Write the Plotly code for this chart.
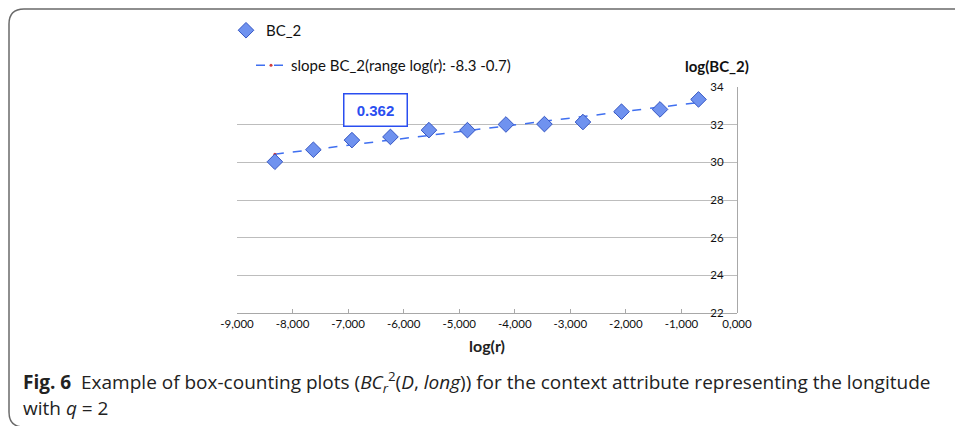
import numpy as np
import plotly.graph_objects as go

# ---- data ----
log_r = [-8.318, -7.625, -6.931, -6.238, -5.545, -4.852, -4.159, -3.466, -2.773, -2.079, -1.386, -0.693]
log_bc2 = [30.03, 30.67, 31.18, 31.35, 31.71, 31.71, 32.01, 32.03, 32.14, 32.69, 32.81, 33.34]
x_ticks = [-9, -8, -7, -6, -5, -4, -3, -2, -1, 0]
x_tick_labels = ["-9,000", "-8,000", "-7,000", "-6,000", "-5,000", "-4,000",
                 "-3,000", "-2,000", "-1,000", "0,000"]
y_ticks = [22, 24, 26, 28, 30, 32, 34]
slope_label = "0.362"

W, H = 955, 426

# linear fit for the slope line
coef = np.polyfit(log_r, log_bc2, 1)
fit_y = list(np.polyval(coef, log_r))

fig = go.Figure()

fig.add_trace(go.Scatter(
    x=log_r, y=fit_y, mode="lines+markers",
    name="slope BC_2(range log(r): -8.3 -0.7)",
    line=dict(color="#3f6ff0", width=1.5, dash="dash"),
    marker=dict(color="#d23c3c", size=3, symbol="circle"),
    legend="legend2",
))
fig.add_trace(go.Scatter(
    x=log_r, y=log_bc2, mode="markers", name="BC_2",
    marker=dict(symbol="diamond", size=12, color="#6f92ef",
                line=dict(color="#3556c4", width=1)),
    legend="legend",
))

def px_x(p):
    return p / W

def px_y(p):
    return 1 - p / H

fig.update_layout(
    width=W, height=H,
    margin=dict(l=0, r=0, t=0, b=0, autoexpand=False),
    paper_bgcolor="white", plot_bgcolor="white",
    font=dict(family="Lato, Open Sans, sans-serif", color="#222"),
    xaxis=dict(
        domain=[px_x(237), px_x(737)],
        range=[-9, 0], tickvals=x_ticks, ticktext=x_tick_labels,
        showgrid=False, zeroline=False, automargin=False,
        showline=True, linecolor="#a8a8a8", linewidth=1,
        ticks="inside", ticklen=4, tickcolor="#a8a8a8",
        tickfont=dict(size=11.5, color="#111", family="Lato, sans-serif"),
        title=dict(text="<b>log(r)</b>", font=dict(size=16, color="#222"), standoff=12),
    ),
    yaxis=dict(
        domain=[px_y(313), px_y(87)],
        range=[22, 34], tickvals=y_ticks,
        anchor="free", position=px_x(737), side="left",
        showgrid=True, gridcolor="#bdbdbd", gridwidth=1,
        zeroline=False, automargin=False,
        showline=True, linecolor="#a8a8a8", linewidth=1,
        ticks="", ticklabelstandoff=11,
        tickfont=dict(size=11.5, color="#111", family="Lato, sans-serif"),
    ),
    legend=dict(
        x=px_x(226), y=px_y(14), xanchor="left", yanchor="top",
        bgcolor="rgba(0,0,0,0)", borderwidth=0,
        font=dict(size=15, color="#111", family="Lato, sans-serif"),
    ),
    legend2=dict(
        x=px_x(251), y=px_y(49), xanchor="left", yanchor="top",
        bgcolor="rgba(0,0,0,0)", borderwidth=0,
        font=dict(size=15, color="#111", family="Lato, sans-serif"),
    ),
    showlegend=True,
)

annotations = [
    dict(x=-6.5, y=32.8, xref="x", yref="y", text="<b>" + slope_label + "</b>",
         showarrow=False, font=dict(size=15, color="#2a4ef0", family="Liberation Sans, Arial, sans-serif"),
         bordercolor="#2a4ef0", borderwidth=1.5, borderpad=2, bgcolor="white",
         width=58, height=27, xanchor="center", yanchor="middle"),
    dict(x=px_x(717), y=px_y(66), xref="paper", yref="paper", text="<b>log(BC_2)</b>",
         xanchor="center", yanchor="middle",
         showarrow=False, font=dict(size=15, color="#111", family="Lato, sans-serif")),
    dict(x=px_x(21), y=px_y(382), xref="paper", yref="paper", xanchor="left", yanchor="middle",
         text="<b>Fig. 6</b>  Example of box-counting plots (<i>BC</i><sub><i>r</i></sub><sup>2</sup>(<i>D</i>, <i>long</i>)) for the context attribute representing the longitude",
         showarrow=False, font=dict(size=19, color="#222", family="Open Sans, sans-serif")),
    dict(x=px_x(21), y=px_y(408), xref="paper", yref="paper", xanchor="left", yanchor="middle",
         text="with <i>q</i> = 2",
         showarrow=False, font=dict(size=19, color="#222", family="Open Sans, sans-serif")),
]
fig.update_layout(annotations=annotations)

# figure frame (rounded top-left and bottom-left corners)
path = (f"M {px_x(956)},{px_y(9)} L {px_x(24)},{px_y(9)} Q {px_x(9)},{px_y(9)} {px_x(9)},{px_y(24)} "
        f"L {px_x(9)},{px_y(412)} Q {px_x(9)},{px_y(427)} {px_x(24)},{px_y(427)}")
fig.add_shape(type="path", path=path, xref="paper", yref="paper",
              line=dict(color="#6a6a6a", width=1.5))

fig.write_html("out.html", config={"displayModeBar": False},
               post_script="document.body.style.margin='0';")
